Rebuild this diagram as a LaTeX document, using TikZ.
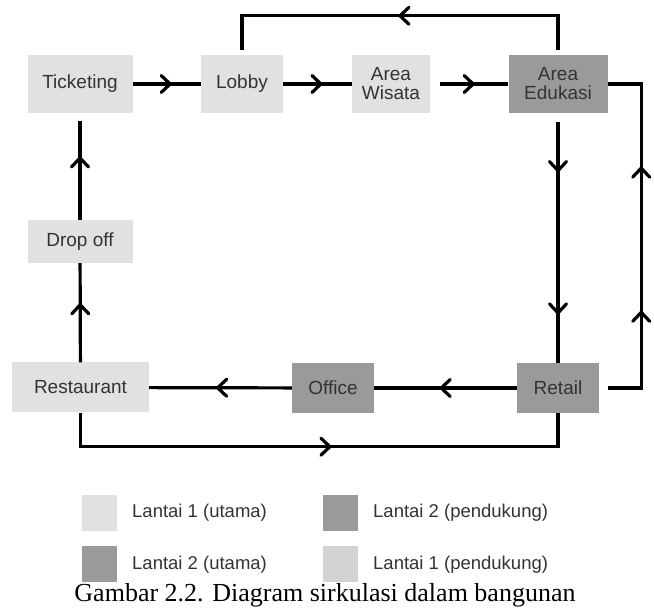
\documentclass[tikz,border=0pt]{standalone}
\usepackage{fontspec}
\setmainfont{Liberation Sans}
\newfontfamily\captionserif{Liberation Serif}
\usetikzlibrary{decorations.markings}
\definecolor{lantaisatu}{HTML}{E1E1E1}
\definecolor{lantaidua}{HTML}{9A9A9A}
\definecolor{teksabu}{HTML}{333333}
\tikzset{
  ruang/.style={fill=#1, text=teksabu, inner sep=0pt, align=center,
    font=\fontsize{19}{19}\selectfont},
  kunci/.style={fill=#1, inner sep=0pt, minimum width=35pt, minimum height=36pt},
  ket/.style={anchor=west, text=teksabu, inner sep=0pt, font=\fontsize{18.5}{19}\selectfont},
  alur/.style={line width=3.2pt},
  tanda/.style={postaction={decorate, decoration={markings,
    mark=at position #1 with {\draw[line width=3.2pt, line cap=round, shorten <=0pt, shorten >=0pt]
      (-9pt,8.5pt) .. controls (-4.5pt,3.6pt) .. (0pt,0pt) .. controls (-4.5pt,-3.6pt) .. (-9pt,-8.5pt);}}}}
}
\begin{document}
\begin{tikzpicture}[x=1pt,y=-1pt]
  \useasboundingbox[fill=white] (0,0) rectangle (654,609);
  \node[ruang=lantaisatu, minimum width=105pt, minimum height=58pt] (ticketing) at (80,84) {Ticketing};
  \node[ruang=lantaisatu, minimum width=82pt, minimum height=58pt] (lobby) at (242,84) {Lobby};
  \node[ruang=lantaisatu, minimum width=78pt, minimum height=58pt] (wisata) at (391,84) {Area\\Wisata};
  \node[ruang=lantaidua, minimum width=99pt, minimum height=58pt] (edukasi) at (558,84) {Area\\Edukasi};
  \node[ruang=lantaisatu, minimum width=105pt, minimum height=43pt] (dropoff) at (80,241.5) {Drop off};
  \node[ruang=lantaisatu, minimum width=137pt, minimum height=50pt] (restaurant) at (80.5,387.5) {Restaurant};
  \node[ruang=lantaidua, minimum width=82pt, minimum height=50pt] (office) at (333,388) {Office};
  \node[ruang=lantaidua, minimum width=82pt, minimum height=50pt] (retail) at (558,388) {Retail};

  \draw[alur, tanda=0.55] (ticketing) -- (lobby);
  \draw[alur, tanda=0.55] (lobby) -- (wisata);
  \draw[alur, tanda=0.55, shorten <=10pt] (wisata) -- (edukasi);
  \draw[alur, tanda=0.5, shorten <=5pt, shorten >=5pt] (edukasi.north) -- ++(0,-39) -| (lobby.north);
  \draw[alur, tanda=0.23, tanda=0.8, shorten <=9pt] (edukasi.south) -- (retail.north);
  \draw[alur, tanda=0.31, tanda=0.69, shorten <=9pt] (retail.east) -- ++(42,0) |- (edukasi.east);
  \draw[alur, tanda=0.53] (retail) -- (office);
  \draw[alur, tanda=0.52] (office) -- (restaurant);
  \draw[alur, tanda=0.52] (restaurant.south) -- ++(0,34) -| (retail.south);
  \draw[alur, tanda=0.58] (restaurant) -- (dropoff);
  \draw[alur, tanda=0.58, shorten >=8pt] (dropoff) -- (ticketing);

  \node[kunci=lantaisatu] (kunci1) at (99.5,513) {};
  \node[kunci=lantaidua] (kunci2) at (340,513) {};
  \node[kunci=lantaidua] (kunci3) at (99.5,564.5) {};
  \node[kunci=lantaisatu!94!black] (kunci4) at (340,564.5) {};
  \node[ket] at (132,513) {Lantai 1 (utama)};
  \node[ket] at (373,513) {Lantai 2 (pendukung)};
  \node[ket] at (132,564.5) {Lantai 2 (utama)};
  \node[ket] at (373,564.5) {Lantai 1 (pendukung)};

  \node[anchor=base, inner sep=0pt, font=\captionserif\fontsize{26}{27}\selectfont] at (325,602)
    {Gambar 2.2. Diagram sirkulasi dalam bangunan};
\end{tikzpicture}
\end{document}
